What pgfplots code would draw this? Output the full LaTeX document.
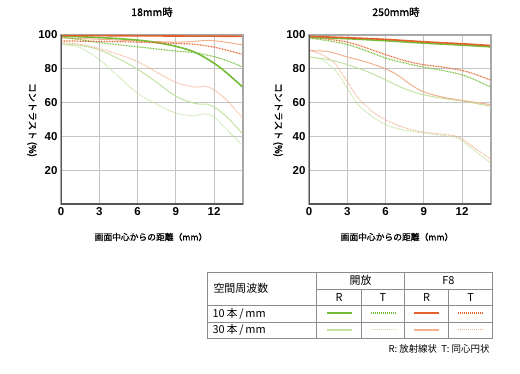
\documentclass[border=0pt]{standalone}
\usepackage{fontspec}
\setmainfont{Liberation Sans}
\newfontfamily\jp{Noto Sans CJK JP}
\newfontfamily\jpb{Noto Sans CJK JP}[FakeBold=1.2]
\usepackage{pgfplots}
\pgfplotsset{compat=1.18}
\definecolor{gD}{HTML}{74BC36}
\definecolor{gL}{HTML}{C2E2A0}
\definecolor{oD}{HTML}{E2602A}
\definecolor{oL}{HTML}{F2B08E}
\definecolor{gridc}{HTML}{C4C4C4}
\definecolor{frameD}{HTML}{555555}
\definecolor{frameL}{HTML}{A8A8A8}
\definecolor{tabc}{HTML}{8C8C8C}
\tikzset{
  oR10/.style={color=gD, line width=1.6bp},
  oT10/.style={color=gD, line width=1.2bp, dash pattern=on 0.8bp off 0.8bp},
  oR30/.style={color=gL, line width=1bp},
  oT30/.style={color=gL, line width=1bp, dash pattern=on 0.8bp off 0.8bp},
  fR10/.style={color=oD, line width=1.6bp},
  fT10/.style={color=oD, line width=1.2bp, dash pattern=on 0.8bp off 0.8bp},
  fR30/.style={color=oL, line width=1bp},
  fT30/.style={color=oL, line width=1bp, dash pattern=on 0.8bp off 0.8bp},
}
\pgfplotsset{
  mtf/.style={
    scale only axis, width=182bp, height=169bp, anchor=south west,
    xmin=0, xmax=14.27, ymin=0, ymax=100,
    xtick={0,3,6,9,12}, ytick={20,40,60,80,100},
    grid=major, major grid style={gridc, line width=1bp},
    major tick length=0pt,
    axis line style={frameL, line width=1.6bp},
    tick label style={font=\fontsize{11.5}{13}\selectfont\bfseries},
    /pgf/number format/assume math mode=true,
    every axis plot/.append style={smooth, tension=0.55},
  },
}
\begin{document}
\begin{tikzpicture}[x=1bp,y=1bp]
\path[use as bounding box] (0,0) rectangle (520,373);
% ---------- legend table ----------
\draw[tabc, line width=1bp] (207,101) rectangle (492.7,35);
\draw[tabc, line width=0.8bp] (316.7,84) -- (492.7,84);
\draw[tabc, line width=0.8bp] (207,68) -- (492.7,68);
\draw[tabc, line width=0.8bp] (207,51) -- (492.7,51);
\draw[tabc, line width=0.8bp] (316.7,101) -- (316.7,35);
\draw[tabc, line width=0.8bp] (404.3,101) -- (404.3,35);
\draw[tabc, line width=0.8bp] (361.7,84) -- (361.7,35);
\draw[tabc, line width=1.3bp] (448.7,84) -- (448.7,35);
\draw[gD, line width=2bp] (326.5,60) -- (351.5,60);
\draw[gD, line width=1.6bp, dash pattern=on 1bp off 1bp] (370.5,60) -- (395.5,60);
\draw[oD, line width=2bp] (414,60) -- (439,60);
\draw[oD, line width=1.6bp, dash pattern=on 1bp off 1bp] (458.2,60) -- (483.2,60);
\draw[gL, line width=2bp] (326.5,43.5) -- (351.5,43.5);
\draw[gL, line width=1.6bp, dash pattern=on 1bp off 1bp] (370.5,43.5) -- (395.5,43.5);
\draw[oL, line width=2bp] (414,43.5) -- (439,43.5);
\draw[oL, line width=1.6bp, dash pattern=on 1bp off 1bp] (458.2,43.5) -- (483.2,43.5);
% ---------- 18mm ----------
\begin{axis}[mtf, at={(61bp,169bp)}]
\addplot[oT30] coordinates {(0,94.3)(1.5,92.5)(3,85.5)(4.5,75.5)(6,65.5)(7.5,59)(9,53.8)(10.3,52.3)(11.3,53.3)(12,51.5)(13,44)(14.2,35)};
\addplot[oR30] coordinates {(0,94.8)(1.5,93.8)(3,91.2)(4.5,86)(6,79.8)(7.5,72)(9,63.8)(10.5,59.5)(11.5,59)(12,57.5)(13,51.5)(14.2,42)};
\addplot[fT30] coordinates {(0,95.5)(1.5,94.5)(3,92)(4.5,88.5)(6,84.3)(7.5,78)(9,72)(10.5,69.2)(11.3,69.8)(12,67.5)(13,61.5)(14.2,51.2)};
\addplot[fR30] coordinates {(0,98.2)(3,97.5)(6,96.5)(9,95.8)(10.5,96.3)(11.5,96.8)(12.5,96.2)(14.2,94.2)};
\addplot[oT10] coordinates {(0,98.8)(1.5,97.2)(3,95.5)(6,93)(9,90.5)(10.5,89.5)(12,87.2)(13,84.8)(14.2,81.3)};
\addplot[oR10] coordinates {(0,99.3)(3,98.5)(6,97)(7.5,95.5)(9,93.3)(10.5,89.8)(12,83.3)(13,77.5)(14.2,69.5)};
\addplot[fT10] coordinates {(0,96.5)(3,96.2)(6,95.8)(9,95.0)(10.5,94.5)(12,92.8)(13,91)(14.2,88.6)};
\addplot[fR10] coordinates {(0,99.6)(3,99.6)(6,99.5)(9,99.4)(12,99.3)(14.2,99.2)};
\draw[frameD, line width=2bp] (rel axis cs:0,1) -- (rel axis cs:0,0) -- (rel axis cs:1,0);
\end{axis}
% ---------- 250mm ----------
\begin{axis}[mtf, at={(309bp,169bp)}]
\addplot[oT30] coordinates {(0,87)(1,85.5)(2,79.5)(2.5,74.5)(3,68.5)(3.5,62.5)(4,57.5)(5,51.5)(6,47)(7,44.5)(8,43)(9,42)(10.5,40.5)(11.5,39.5)(12,37.3)(13,31.5)(14.2,24.5)};
\addplot[fT30] coordinates {(0,90.8)(1,88.5)(2,83.5)(2.5,78)(3,72.5)(3.5,66.5)(4,61.5)(5,54.5)(6,49.8)(7,46.5)(8,44)(9,42.5)(10.5,41.3)(11.5,40.2)(12,38.5)(13,33)(14.2,26.8)};
\addplot[oR30] coordinates {(0,87)(1.5,85.5)(3,82.5)(4.5,78.5)(6,73.5)(7,69.8)(8,66.8)(9,64.6)(10.5,62.5)(12,61)(13,59.6)(14.2,57.8)};
\addplot[fR30] coordinates {(0,90.7)(1.5,90.2)(3,87)(4.5,84)(6,80)(7,76)(8,70.5)(9,66.3)(10.5,63.2)(12,61.3)(13,60.2)(14.2,58.8)};
\addplot[oT10] coordinates {(0,98.2)(3,94.4)(6,86.4)(7.5,83.4)(9,81)(10.5,79)(12,76.4)(13,73.5)(14.2,69.4)};
\addplot[fT10] coordinates {(0,98.6)(3,95.8)(6,88.4)(7.5,84.8)(9,82.4)(10.5,81)(12,79)(13,76.8)(14.2,73.4)};
\addplot[oR10] coordinates {(0,98.6)(3,97.8)(6,96.6)(9,95.2)(12,94)(14.2,93)};
\addplot[fR10] coordinates {(0,99.2)(3,98.4)(6,97.4)(9,96)(12,94.8)(14.2,93.8)};
\draw[frameD, line width=2bp] (rel axis cs:0,1) -- (rel axis cs:0,0) -- (rel axis cs:1,0);
\end{axis}
% ---------- titles and labels ----------
\node[font=\jpb\fontsize{10.5}{12}\selectfont] at (152,361) {18mm時};
\node[font=\jpb\fontsize{10.5}{12}\selectfont] at (396,361) {250mm時};
\node[font=\jpb\fontsize{8.8}{10}\selectfont] at (151,136) {画面中心からの距離（mm）};
\node[font=\jpb\fontsize{8.8}{10}\selectfont] at (397,136) {画面中心からの距離（mm）};
\node[rotate=-90, font=\jpb\fontsize{9.5}{10}\selectfont] at (32,253) {コントラスト (\%)};
\node[rotate=-90, font=\jpb\fontsize{9.5}{10}\selectfont] at (278,253) {コントラスト (\%)};
\begin{scope}[font=\jp\fontsize{11}{12}\selectfont]
\node[anchor=west] at (210,84.5) {空間周波数};
\node at (360.5,92.5) {開放};
\node at (448.5,92.5) {F8};
\node at (339.2,76) {R};
\node at (383,76) {T};
\node at (426.5,76) {R};
\node at (470.7,76) {T};
\node[anchor=west] at (209,59.5) {10\,本\,/\,mm};
\node[anchor=west] at (209,43) {30\,本\,/\,mm};
\end{scope}
\node[anchor=east, font=\jp\fontsize{9.5}{10}\selectfont] at (493,24) {R: 放射線状\ \ T: 同心円状};
\end{tikzpicture}
\end{document}
